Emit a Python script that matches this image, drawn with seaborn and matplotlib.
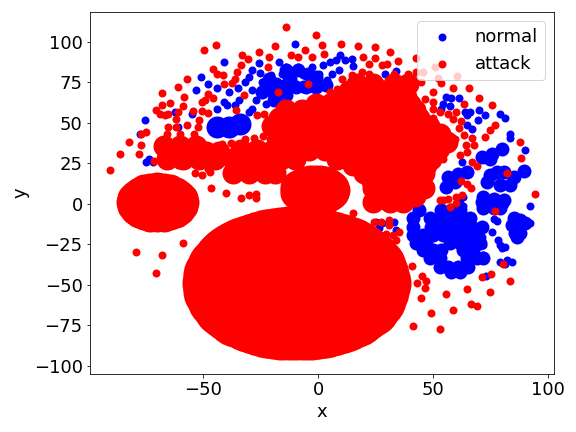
import matplotlib
matplotlib.use("Agg")
import matplotlib.pyplot as plt
import numpy as np
import seaborn as sns

# points, (x, y)
normal_points = [
    (-10.3, 98.5), (-40.9, 87.6), (-51.1, 78.4), (-48.1, 73.9), (-53.3, 70.1), (-44, 71.6),
    (-34.9, 71.6), (-39, 69.1), (-41.2, 63), (-39.7, 60.9), (-44.1, 58.8), (-36.1, 60.9),
    (-34.6, 64), (-62.4, 56.8), (-55.1, 55.7), (-60.9, 47.5), (-75.4, 51.6), (-77.7, 43.4),
    (-74.8, 25.9), (-71.9, 25.9), (-73.4, 28), (-25.7, 86.8), (-28.8, 82.5), (-25.4, 80.8),
    (-30.2, 78.4), (-31.7, 75.3), (-20.7, 79.4), (-17.1, 87.6), (-14.1, 84.5), (-15.6, 80.4),
    (-9, 84.5), (-2.9, 84.5), (1.9, 86), (0.5, 80.4), (-6.8, 79.4), (-11.2, 77.3),
    (-24.4, 75.3), (-20.7, 74.3), (-17.1, 74.3), (-12.7, 73.2), (-6.8, 74.3), (-1, 73.2),
    (3.4, 74.3), (-28.8, 70.1), (-25.1, 70.1), (-21.5, 69.1), (-13.4, 68.1), (-27.3, 64),
    (-22.9, 61.9), (-18.5, 64), (-28.8, 58.8), (-30.2, 56.8), (-6.8, 71.2), (-2.4, 71.2),
    (9.6, 91.8), (7.5, 88.7), (11.8, 88.7), (14.8, 89.3), (15.2, 85.2), (5.3, 87.6),
    (29.1, 80.2), (8.9, 82.5), (6, 80.4), (3.8, 76.3), (33.8, 81.9), (55.7, 66),
    (57.5, 65.4), (61.3, 65.6), (54.2, 61.9), (57.2, 60.5), (53.5, 58.8), (63.7, 56.8),
    (66, 56.8), (64.5, 54.7), (70, 58.2), (72.5, 54.7), (69.3, 51.6), (79.1, 55.5),
    (81, 53.3), (64.5, 48.5), (66.7, 46.1), (83.5, 43.4), (83.5, 41), (90.1, 33.1),
    (62.4, 25.7), (80, 13), (76, 17), (63, 4.3),
    (76.2, -9.3), (77.9, -10.5), (75.4, -17.1), (78.1, -22.2), (79.1, -25.3), (81.3, -26.3),
    (79.8, -27.4), (71.1, -20.2), (69.6, -23.3), (67.4, -25.3), (71.8, -25.3), (71.8, -31.5),
    (71.1, -13), (79.1, -35.6), (82, -34.6), (84.2, -36), (81, -37), (73, -44.2),
    (25, -10.9), (27.9, -11.9), (33, -10.9), (26.5, -15), (33.8, -16), (61.6, 0.4),
    (53.5, -2.7), (63, -1), (92.2, -11.9), (92.1, -1.2),
]
normal_mid_points = [
    (-22.9, 74.3), (-18.5, 74.3), (-14.1, 73.2), (-9.8, 72.2), (-5.4, 72.2), (-1, 72.2),
    (3.4, 73.2), (-24.4, 69.1), (-20.7, 70.1), (-14.1, 67.1), (-19.3, 64), (-21.5, 77.3),
    (-14.1, 82.5), (-9, 82.5), (-4.6, 80.4), (-1, 78.4), (-12.7, 78.4),
    (44, -3.7), (53.5, -3.7), (57.9, -3.7), (61.5, -3.7),
    (41.1, -8.8), (48.4, -8.8), (52.8, -8.8), (57.2, -8.8), (61.5, -8.8), (66, -8.8),
    (41.1, -14), (49.1, -14), (53.5, -14), (57.9, -14), (62.3, -14), (66.7, -14), (71, -14),
    (41.1, -19.1), (45.5, -19.1), (49.9, -19.1), (54.2, -19.1), (58.6, -19.1), (63, -19.1), (67.4, -19.1),
    (42.5, -24.3), (46.9, -24.3), (57.2, -24.3), (61.5, -24.3), (66, -24.3), (70.3, -24.3),
    (45.5, -28.4), (49.9, -28.4), (53.5, -28.4), (63, -28.4), (67.4, -28.4),
    (48.4, -33.5), (52.8, -33.5), (64.5, -33.5), (68.9, -33.5), (71.8, -33.5),
    (52.8, -38.7), (56.4, -38.7), (60.8, -38.7), (65.2, -38.7), (57.9, -41.8), (61.5, -41.8),
    (71, 1.4), (75.4, 1.4), (79.8, 0.4), (71.8, -2.7), (76.2, -2.7), (79.1, -2.7),
    (84.9, -8.8), (87.9, -9.9), (84.2, -13), (87.1, -14), (90.1, -11.9), (85.7, -18.1),
    (87.9, -18.1), (86.4, -20.2),
    (71, 29), (75.4, 31), (79.8, 34), (74.7, 28), (56.4, 16.6), (60.8, 18.7), (64.5, 19.7),
    (55.7, 10.5), (59.4, 13.6), (74.7, 17.7), (73.2, 13.6), (79.1, 11.5), (83.5, 11.5),
    (84.9, 16.6), (89.3, 20.1), (80.6, 19.7), (77.6, 19.7), (71.8, 4.3), (76.2, 3.3), (80.6, 2.2),
]
normal_dense_points = [(-44.1, 47.5), (-39, 47.5), (-33.9, 49.6)]

attack_points = [
    (-13.9, 109), (-1, 104.1), (-44.6, 97.9), (-49.5, 94.8), (-18.7, 97.3), (-25.7, 93.8),
    (-21.3, 90.7), (-33.1, 91.8), (-30.5, 89.3), (-11.9, 91.8), (-9, 90.7), (-5.7, 94.8),
    (-2.7, 90.7), (1.5, 97.9), (2.6, 92.8), (-21.7, 84.3), (-46, 83.5), (-44.1, 80.4),
    (-41.5, 79.4), (-33.4, 85.6), (-35.4, 81.5), (-36.4, 77.3), (-41.2, 74.3), (-37.5, 74.7),
    (-57.3, 76.9), (-61.2, 72), (-67.8, 68.3), (-58.6, 65.8), (-64.3, 62.1), (-67.8, 60.9),
    (-48.1, 68.1), (-45.6, 65.4), (-50.7, 62.9), (-49.2, 64), (-58.7, 60.5), (-60.9, 56.8),
    (-61.7, 52.7), (-70.4, 58.2), (-69, 55.7), (-66.8, 54.7), (-65.3, 55.7), (-54.3, 57.4),
    (-50.7, 57.4), (-48.1, 55.9), (-51.7, 51.6), (-35.8, 57.8), (-32.4, 67.1), (-17.4, 68.9),
    (-4.4, 73.8), (-26.6, 54.7), (-23.6, 55.7), (-65.3, 47.3), (-61.7, 47.3), (-57.3, 48.5),
    (-52.4, 47.5), (-74.8, 44.4), (-77, 43.4), (-82.3, 38), (-77, 36.2), (-86.1, 30.6),
    (-77.9, 30.6), (-90.6, 21.2), (-71.6, 26.3), (-61.2, 24.3), (-46.7, 9.7), (-40, 6.8),
    (-53.6, 18.9), (-50.7, 18.1), (-47, 19.7), (-33.4, 3.5), (-30.2, 5.3), (-27.3, 6.4),
    (-27.3, 3.5), (-79.2, -29.8), (-67.8, -31.7), (-58.9, -24.3), (-70.4, -42.8),
    (9.8, 98.5), (17.2, 97.3), (24.7, 96.7), (31.3, 93.6), (19.4, 90.5), (24.7, 89.9),
    (22.1, 86.2), (27.6, 85.6), (30, 86.2), (34.8, 88), (42.5, 89.9), (50.6, 84.3),
    (45.6, 81.3), (52.1, 77.5), (60.4, 78.8), (53.5, 74.7), (58.6, 71.4), (65.5, 71.4),
    (50.1, 68.9), (46.2, 65), (49.9, 63), (63.3, 61.5), (69.9, 65.2), (75.7, 60.9),
    (49.9, 58.4), (52.8, 56.8), (56.3, 55.3), (59.8, 56.8), (58.6, 52.7), (62, 51.2),
    (49.9, 53.1), (61.3, 46.7), (63.3, 42.4), (66.8, 40.9), (64.2, 36.2), (67.8, 36.2),
    (64.5, 32.1), (61.6, 30), (67, 25.7), (69, 23.2), (82.2, 18.9), (87.9, 38),
    (88.3, 28.2), (94.4, 6), (72.5, 41.3), (74.7, 45.5), (76.9, 48.5), (62, 14),
    (64.5, 12), (66.2, 10.1), (52.8, 2.2), (56.4, 3.3), (60.1, 4.3), (62.3, 5.3),
    (59.4, 40.3), (57.9, 36.2), (55, 32), (54.2, 28), (33, 80.4), (38.9, 80.4),
    (42.5, 81.5), (44.7, 75.3), (19.2, 81.5), (14.8, 79.4), (22.1, 80.4), (10.4, 77.3),
    (8.2, 71.2), (5.3, 69.1), (76.9, -4.3), (24.3, -10.9), (27.2, -10.9), (30.9, -9.9),
    (30.9, -13), (29.4, -18.7), (32.3, -19.1), (35, -17.1), (33.8, -22.2), (15.1, -5.5),
    (40.8, -38.3), (45, -44.6), (46.9, -47.5), (43.1, -49), (46.6, -52.1), (44.7, -58.2),
    (55.4, -55.8), (64.5, -52.7), (74.7, -54.5), (71.3, -45.3), (74.9, -43.4), (80.4, -37.2),
    (83.3, -47.3), (66.4, -61.9), (68.9, -63.2), (58.5, -65.6), (48.8, -67.5), (41.1, -75.3),
    (52.8, -77), (54.2, 2.5), (57.2, -1.6), (60.1, 0.4), (-32, 40), (-28, 41),
    (-24, 42), (-21, 40), (-52.2, 24.9), (-47.8, 21.8), (-44.8, 25.9), (-41.9, 31),
    (-33.1, 34.1), (-37.5, 32), (-42, 37), (-38, 37.5), (-66, 43), (-60, 43), (-54, 43),
]
attack_dense_points = [
    (17, 74), (24, 74), (33, 74), (39, 74),
    (13.5, 70), (20.5, 70), (27.5, 70), (34.5, 70),
    (10, 66), (17, 66), (24, 66), (31, 66), (38, 66),
    (-1, 62), (5, 62), (13.5, 62), (20.5, 62), (27.5, 62), (34.5, 62), (40, 62),
    (-14, 58), (-7, 58), (0, 58), (7, 58), (14, 58), (21, 58), (28, 58), (35, 58), (42, 58),
    (-17, 53), (-10, 53), (-3, 53), (4, 53), (11, 53), (18, 53), (25, 53), (32, 53), (39, 53), (44, 53),
    (-20, 48), (-13, 48), (-6, 48), (1, 48), (8, 48), (15, 48), (22, 48), (29, 48), (36, 48),
    (43, 48), (48, 48),
    (-16, 43), (-9.5, 43), (-2.5, 43), (4.5, 43), (11.5, 43), (18.5, 43), (25.5, 43), (32.5, 43),
    (39.5, 43), (46.5, 43), (53, 43),
    (-13, 38), (-6, 38), (1, 38), (8, 38), (15, 38), (22, 38), (29, 38), (36, 38), (43, 38),
    (50, 38), (56, 38),
    (-33.5, 33), (-26.5, 33), (-19.5, 33), (-13, 33), (-4, 33), (3, 33), (11.5, 33), (18.5, 33),
    (25.5, 33), (32.5, 33), (39.5, 33), (46.5, 33), (52, 33),
    (-37, 28), (-30, 28), (-23, 28), (-16, 28), (-10, 28), (8, 28), (15, 28), (22, 28),
    (29, 28), (36, 28), (43, 28), (49, 28),
    (-33.5, 24), (-26.5, 24), (-20.5, 24), (15, 24), (18.5, 24), (25.5, 24), (32.5, 24), (39.5, 24), (47, 24),
    (-37, 19), (-30, 19), (-23, 19), (-19, 19), (20, 19), (27, 19), (34, 19), (41, 19), (46, 19),
    (23.5, 14), (30.5, 14), (37.5, 14), (44, 14),
    (24, 10), (31, 10), (38, 10), (46, 10),
    (27.5, 5), (34.5, 5), (42, 5),
    (24, 1), (31, 1), (37, 1),
    (-67, 36), (-60, 36), (-53, 36),
    (-63, 32), (-56, 32), (-49, 32), (-43, 32),
    (-66, 28), (-59, 28), (-52, 28), (-45, 28),
]
attack_blob_points = [
    (-58.6, 1), (-60.1, 5.7), (-64.3, 9), (-70, 10.3), (-75.7, 9), (-79.9, 5.7), (-81.4, 1),
    (-79.9, -3.7), (-75.7, -7), (-70, -8.3), (-64.3, -7), (-60.1, -3.7), (-70, 1),
    (-59, 3.4), (-61.9, 7.6), (-67, 10), (-73, 10), (-78.1, 7.6), (-81, 3.4), (-81, -1.4),
    (-78.1, -5.6), (-73, -8), (-67, -8), (-61.9, -5.6), (-59, -1.4),
    (7.3, 8.6), (6.1, 11.7), (2.9, 14), (-1.5, 14.8), (-5.9, 14), (-9.1, 11.7), (-10.3, 8.6),
    (-9.1, 5.5), (-5.9, 3.2), (-1.5, 2.4), (2.9, 3.2), (6.1, 5.5), (-1.5, 8.6),
    (7, 10.2), (4.7, 13), (0.8, 14.6), (-3.8, 14.6), (-7.7, 13), (-10, 10.2), (-10, 7),
    (-7.7, 4.2), (-3.8, 2.6), (0.8, 2.6), (4.7, 4.2), (7, 7),
]
attack_core_points = [
    (27.2, -49), (26.6, -44), (25, -39.1), (22.3, -34.5), (18.6, -30.4), (14.1, -26.8),
    (8.8, -23.9), (3, -21.7), (-3.2, -20.4), (-9.6, -20), (-16, -20.4), (-22.2, -21.7),
    (-28, -23.9), (-33.3, -26.8), (-37.8, -30.4), (-41.5, -34.5), (-44.2, -39.1), (-45.8, -44),
    (-46.4, -49), (-45.8, -54), (-44.2, -58.9), (-41.5, -63.5), (-37.8, -67.6), (-33.3, -71.2),
    (-28, -74.1), (-22.2, -76.3), (-16, -77.6), (-9.6, -78), (-3.2, -77.6), (3, -76.3),
    (8.8, -74.1), (14.1, -71.2), (18.6, -67.6), (22.3, -63.5), (25, -58.9), (26.6, -54),
    (-30, -49), (-20, -49), (-10, -49), (0, -49), (10, -49),
    (11.5, -25.2), (6, -22.7), (-0.1, -21), (-6.4, -20.1), (-12.8, -20.1), (-19.1, -21),
    (-25.2, -22.7), (-30.7, -25.2), (11.5, -72.8), (6, -75.3), (-0.1, -77), (-6.4, -77.9),
    (-12.8, -77.9), (-19.1, -77), (-25.2, -75.3), (-30.7, -72.8), (20.5, -32.4), (16.4, -28.5),
    (-35.6, -28.5), (-39.7, -32.4), (20.5, -65.6), (16.4, -69.5), (-35.6, -69.5), (-39.7, -65.6),
]

x_ticks = [-50, 0, 50, 100]
y_ticks = [-100, -75, -50, -25, 0, 25, 50, 75, 100]


def draw(ax, points, color, size, label=None):
    pts = np.array(points)
    sns.scatterplot(x=pts[:, 0], y=pts[:, 1], color=color, s=size, linewidth=0, ax=ax, label=label)


fig, ax = plt.subplots(figsize=(8, 6), dpi=72)
fig.subplots_adjust(left=89.7 / 576, right=554 / 576, top=1 - 12 / 432, bottom=1 - 374 / 432)

draw(ax, normal_points, "blue", 64, "normal")
draw(ax, normal_mid_points, "blue", 196)
draw(ax, normal_dense_points, "blue", 484)
draw(ax, attack_points, "red", 64, "attack")
draw(ax, attack_dense_points, "red", 484)
draw(ax, attack_blob_points, "red", 900)
draw(ax, attack_core_points, "red", 3600)

ax.set_xlim(-99.4, 102.5)
ax.set_ylim(-105, 118.5)
ax.set_xticks(x_ticks)
ax.set_yticks(y_ticks)
ax.tick_params(labelsize=18)
ax.set_xlabel("x", fontsize=18)
ax.set_ylabel("y", fontsize=18)
ax.legend(loc="upper right", fontsize=18)

plt.savefig("out.png", dpi=72)
